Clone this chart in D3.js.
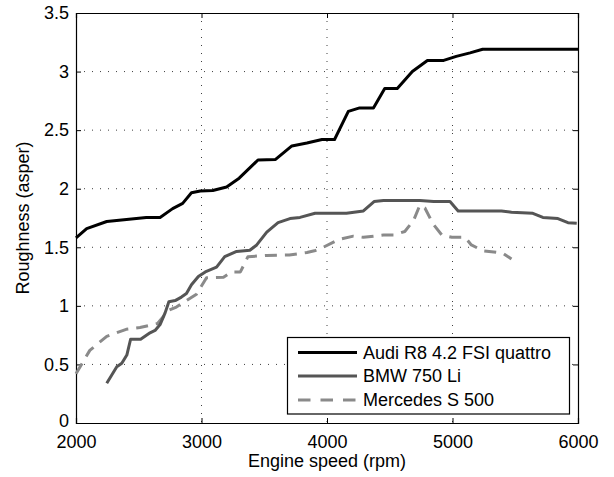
<!DOCTYPE html>
<html>
<head>
<meta charset="utf-8">
<script src="https://cdn.jsdelivr.net/npm/d3@7"></script>
<style>
  html, body { margin: 0; padding: 0; background: #fff; }
  svg { display: block; font-family: "Liberation Sans", Arial, Helvetica, sans-serif; }
</style>
</head>
<body>
<svg id="chart" width="614" height="477"></svg>
<script>
// ---- data ----
const xTicks = [2000, 3000, 4000, 5000, 6000];
const yTicks = [0, 0.5, 1, 1.5, 2, 2.5, 3, 3.5];
const yTickLabels = ["0", "0.5", "1", "1.5", "2", "2.5", "3", "3.5"];
const seriesNames = ["Audi R8 4.2 FSI quattro", "BMW 750 Li", "Mercedes S 500"];

const audiRpm = [2000,2085,2245,2560,2670,2770,2850,2920,2990,3090,3200,3300,3450,3590,3720,3840,3960,4060,4170,4260,4370,4460,4560,4680,4800,4930,5030,5140,5240,6000];
const audiVal = [1.58,1.66,1.72,1.755,1.755,1.83,1.875,1.965,1.98,1.985,2.015,2.09,2.245,2.25,2.365,2.39,2.42,2.42,2.66,2.69,2.69,2.855,2.855,3.0,3.095,3.095,3.13,3.16,3.19,3.19];

const bmwRpm = [2245,2325,2365,2405,2435,2515,2590,2630,2670,2710,2740,2790,2840,2880,2920,2975,3030,3120,3185,3280,3385,3440,3520,3610,3705,3785,3905,4155,4290,4375,4450,4740,4850,4980,5045,5390,5470,5640,5720,5840,5920,5990];
const bmwVal = [0.34,0.48,0.51,0.58,0.715,0.715,0.77,0.79,0.84,0.94,1.035,1.045,1.075,1.105,1.18,1.25,1.29,1.33,1.42,1.465,1.475,1.52,1.63,1.71,1.745,1.755,1.79,1.79,1.81,1.89,1.9,1.9,1.89,1.89,1.81,1.81,1.8,1.79,1.755,1.745,1.71,1.705];

const mercRpm = [2000,2110,2245,2400,2510,2650,2735,2800,2960,3040,3175,3240,3310,3370,3520,3700,3840,3900,3970,4090,4210,4290,4450,4530,4620,4690,4740,4780,4845,4915,4995,5100,5150,5245,5310,5400,5470];
const mercVal = [0.42,0.62,0.74,0.80,0.815,0.85,0.96,0.99,1.1,1.24,1.245,1.29,1.29,1.42,1.43,1.435,1.455,1.47,1.5,1.565,1.595,1.585,1.605,1.605,1.635,1.73,1.86,1.835,1.7,1.605,1.585,1.585,1.52,1.47,1.462,1.45,1.4];

// ---- layout ----
const svg = d3.select("#chart");
const L = 76, R = 578, T = 13, B = 423;
const x = d3.scaleLinear().domain([2000, 6000]).range([L, R]);
const y = d3.scaleLinear().domain([0, 3.5]).range([B, T]);
const FS = 18;

// grid
const grid = svg.append("g");
xTicks.slice(1, -1).forEach(t => {
  grid.append("line").attr("x1", x(t)).attr("x2", x(t)).attr("y1", T).attr("y2", B)
    .attr("stroke", "#000").attr("stroke-width", 1).attr("stroke-dasharray", "1,7").attr("opacity", 0.75);
});
yTicks.slice(1, -1).forEach(t => {
  grid.append("line").attr("x1", L).attr("x2", R).attr("y1", y(t)).attr("y2", y(t))
    .attr("stroke", "#000").attr("stroke-width", 1).attr("stroke-dasharray", "1,7").attr("opacity", 0.75);
});

// axes with inward ticks
const tk = 5;
const axB = svg.append("g").attr("transform", `translate(0,${B})`)
  .call(d3.axisBottom(x).tickValues(xTicks).tickSize(-tk).tickPadding(12).tickFormat(d3.format("d")));
const axT = svg.append("g").attr("transform", `translate(0,${T})`)
  .call(d3.axisTop(x).tickValues(xTicks).tickSize(-tk).tickFormat(""));
const axL = svg.append("g").attr("transform", `translate(${L},0)`)
  .call(d3.axisLeft(y).tickValues(yTicks).tickSize(-tk).tickPadding(7).tickFormat((d, i) => yTickLabels[i]));
const axR = svg.append("g").attr("transform", `translate(${R},0)`)
  .call(d3.axisRight(y).tickValues(yTicks).tickSize(-tk).tickFormat(""));
[axB, axT, axL, axR].forEach(a => {
  a.select(".domain").attr("stroke", "#000").attr("stroke-width", 1.2);
  a.selectAll(".tick line").attr("stroke", "#000").attr("stroke-width", 1);
  a.selectAll("text").attr("font-size", FS).attr("fill", "#000").attr("font-family", "Liberation Sans, Arial, sans-serif");
});
axB.selectAll(".tick text").attr("dy", "0.71em");
// nudge the "0" label up slightly so it does not collide with "2000"
axL.selectAll(".tick text").filter(d => d === 0).attr("dy", "0.2em");

// lines
const mk = (xs, ys) => xs.map((v, i) => [v, ys[i]]);
const line = d3.line().x(d => x(d[0])).y(d => y(d[1]));
const series = [
  { name: seriesNames[0], data: mk(audiRpm, audiVal), color: "#000", dash: null },
  { name: seriesNames[1], data: mk(bmwRpm, bmwVal), color: "#555", dash: null },
  { name: seriesNames[2], data: mk(mercRpm, mercVal), color: "#8a8a8a", dash: "12,8" }
];
const plot = svg.append("g");
series.slice().reverse().forEach(s => {
  plot.append("path").attr("d", line(s.data)).attr("fill", "none")
    .attr("stroke", s.color).attr("stroke-width", 3)
    .attr("stroke-linejoin", "round")
    .attr("stroke-dasharray", s.dash);
});

// axis labels
svg.append("text").attr("x", (L + R) / 2).attr("y", 467).attr("text-anchor", "middle")
  .attr("font-size", FS).text("Engine speed (rpm)");
svg.append("text").attr("transform", `translate(29,${(T + B) / 2}) rotate(-90)`).attr("text-anchor", "middle")
  .attr("font-size", FS).text("Roughness (asper)");

// legend
const lg = svg.append("g");
lg.append("rect").attr("x", 287.5).attr("y", 337.5).attr("width", 282).attr("height", 76.5)
  .attr("fill", "#fff").attr("stroke", "#000").attr("stroke-width", 1.2);
const rowY = [352.5, 376, 400];
series.forEach((s, i) => {
  lg.append("line").attr("x1", 298).attr("x2", 357).attr("y1", rowY[i]).attr("y2", rowY[i])
    .attr("stroke", s.color).attr("stroke-width", 3).attr("stroke-dasharray", s.dash ? "12.5,10" : null);
  lg.append("text").attr("x", 363).attr("y", rowY[i]).attr("dy", "0.36em")
    .attr("font-size", FS).text(s.name);
});
</script>
</body>
</html>
